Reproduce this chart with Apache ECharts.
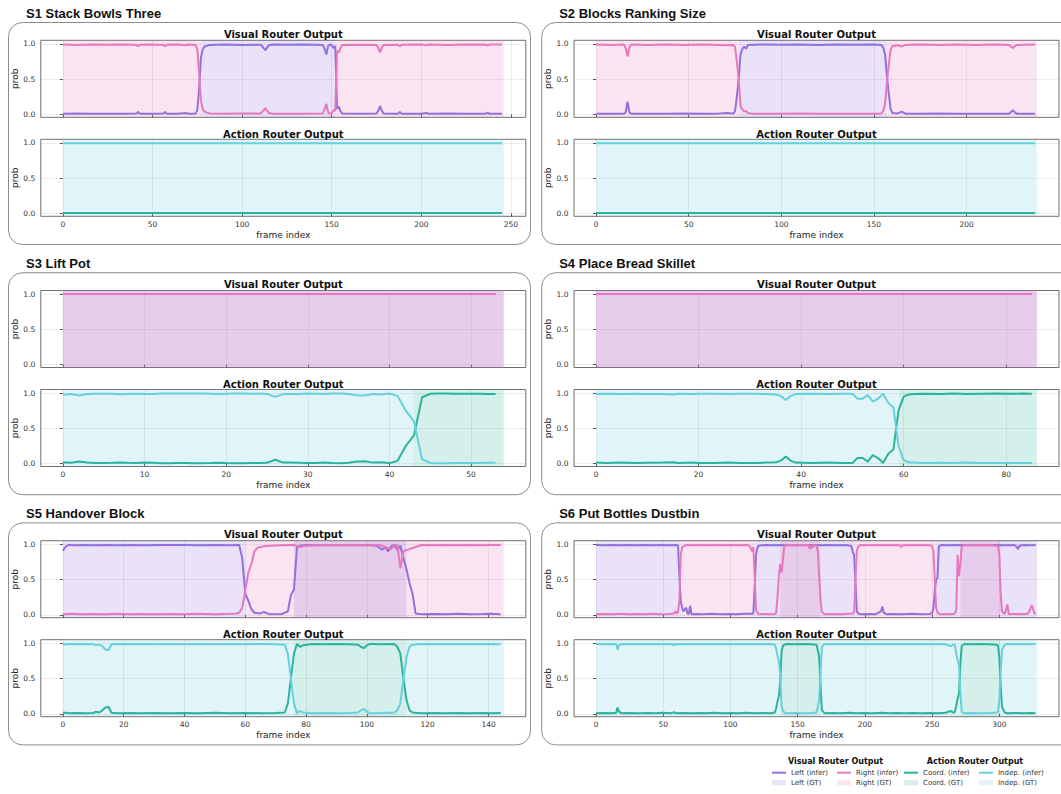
<!DOCTYPE html>
<html><head><meta charset="utf-8">
<script src="https://cdn.jsdelivr.net/npm/echarts@6/dist/echarts.min.js"></script>
<style>html,body{margin:0;padding:0;background:#fff}#chart{width:1061px;height:794px}</style>
</head><body><div id="chart"></div>
<script>
// ---------------- DATA ----------------
const panelTitles = ['S1 Stack Bowls Three','S2 Blocks Ranking Size','S3 Lift Pot','S4 Place Bread Skillet','S5 Handover Block','S6 Put Bottles Dustbin'];
const subplotTitles = ['Visual Router Output','Action Router Output'];
const legendTitles = ['Visual Router Output','Action Router Output'];
const inferNames = ['Left (infer)','Right (infer)','Coord. (infer)','Indep. (infer)'];
const gtNames = ['Left (GT)','Right (GT)','Coord. (GT)','Indep. (GT)'];
const probTicks = [0, 0.5, 1.0];
const s1Ticks = [0,50,100,150,200,250];
const s2Ticks = [0,50,100,150,200];
const s3Ticks = [0,10,20,30,40,50];
const s4Ticks = [0,20,40,60,80];
const s5Ticks = [0,20,40,60,80,100,120,140];
const s6Ticks = [0,50,100,150,200,250,300];

// S1 Stack Bowls Three
const s1Left = [[0,0.01],[8,0.015],[15,0.01],[25,0.012],[35,0.01],[41,0.015],[42,0.035],[43,0.012],[50,0.01],[56,0.015],[57,0.035],[58,0.012],[64,0.01],[69,0.02],[70,0.01],[74,0.012],[75,0.06],[76,0.35],[77,0.8],[78,0.92],[79,0.96],[80,0.97],[82,0.985],[90,0.99],[100,0.985],[110,0.988],[111,0.975],[112,0.94],[113,0.91],[114,0.95],[115,0.98],[117,0.99],[125,0.988],[135,0.99],[145,0.985],[146,0.93],[147,0.85],[148,0.97],[149,0.99],[150,0.98],[151,0.94],[152,0.97],[153,0.08],[154,0.11],[155,0.04],[156,0.015],[165,0.012],[175,0.015],[176,0.05],[177,0.12],[178,0.05],[179,0.015],[187,0.012],[188,0.035],[189,0.012],[200,0.01],[203,0.022],[204,0.01],[215,0.015],[225,0.01],[236,0.012],[237,0.025],[238,0.01],[245,0.01]];
const s1Right = [[0,0.99],[8,0.985],[15,0.99],[25,0.988],[35,0.99],[41,0.985],[42,0.965],[43,0.988],[50,0.99],[56,0.985],[57,0.965],[58,0.988],[64,0.99],[69,0.98],[70,0.99],[74,0.985],[75,0.93],[76,0.6],[77,0.2],[78,0.08],[79,0.04],[80,0.03],[82,0.015],[90,0.01],[100,0.015],[110,0.012],[111,0.03],[112,0.06],[113,0.09],[114,0.05],[115,0.02],[117,0.01],[125,0.012],[135,0.01],[145,0.015],[146,0.07],[147,0.15],[148,0.03],[149,0.01],[150,0.02],[151,0.06],[152,0.05],[153,0.9],[154,0.88],[155,0.95],[156,0.985],[165,0.988],[175,0.985],[176,0.94],[177,0.88],[178,0.95],[179,0.985],[187,0.988],[188,0.965],[189,0.988],[200,0.99],[203,0.978],[204,0.99],[215,0.985],[225,0.99],[236,0.988],[237,0.975],[238,0.99],[245,0.99]];
const s1Coord = [[0,0.006],[245,0.006]];
const s1Indep = [[0,0.994],[245,0.994]];
const s1LeftGT = [[77,152]];
const s1RightGT = [[0,77],[152,246]];
const s1CoordGT = [];
const s1IndepGT = [[0,246]];

// S2 Blocks Ranking Size
const s2Left = [[0,0.01],[8,0.012],[15,0.01],[16,0.03],[17,0.18],[18,0.03],[19,0.01],[28,0.012],[38,0.01],[48,0.015],[58,0.01],[66,0.012],[70,0.02],[74,0.015],[75,0.04],[76,0.25],[77,0.5],[78,0.85],[79,0.93],[80,0.96],[81,0.93],[82,0.985],[90,0.99],[100,0.988],[110,0.99],[120,0.985],[130,0.99],[140,0.988],[150,0.99],[154,0.985],[155,0.95],[156,0.85],[157,0.55],[158,0.3],[159,0.08],[160,0.02],[163,0.015],[165,0.04],[167,0.012],[175,0.01],[185,0.015],[195,0.01],[205,0.012],[215,0.01],[223,0.012],[224,0.035],[225,0.06],[226,0.03],[227,0.012],[237,0.01]];
const s2Right = [[0,0.99],[8,0.985],[15,0.99],[16,0.94],[17,0.82],[18,0.95],[19,0.99],[28,0.985],[38,0.99],[48,0.985],[58,0.99],[66,0.985],[70,0.98],[74,0.985],[75,0.96],[76,0.75],[77,0.5],[78,0.12],[79,0.07],[80,0.04],[81,0.05],[82,0.02],[84,0.01],[90,0.012],[100,0.01],[110,0.015],[120,0.01],[130,0.012],[140,0.01],[150,0.012],[154,0.015],[155,0.05],[156,0.15],[157,0.45],[158,0.7],[159,0.92],[160,0.97],[163,0.98],[165,0.96],[167,0.985],[175,0.99],[185,0.985],[195,0.99],[205,0.985],[215,0.99],[223,0.985],[224,0.96],[225,0.94],[226,0.965],[227,0.985],[237,0.99]];
const s2Coord = [[0,0.006],[237,0.006]];
const s2Indep = [[0,0.994],[237,0.994]];
const s2LeftGT = [[77,157]];
const s2RightGT = [[0,77],[157,238]];
const s2CoordGT = [];
const s2IndepGT = [[0,238]];

// S3 Lift Pot
const s3Left = [[0,1],[53,1]];
const s3Right = [[0,1],[53,1]];
const s3Coord = [[0,0.02],[1,0.012],[2,0.03],[3,0.015],[4,0.01],[5,0.01],[6,0.012],[7,0.018],[8,0.012],[9,0.01],[10,0.015],[11,0.012],[12,0.005],[13,0.005],[14,0.008],[15,0.008],[16,0.005],[17,0.005],[18,0.008],[19,0.012],[20,0.008],[21,0.006],[22,0.006],[23,0.008],[24,0.008],[25,0.012],[26,0.055],[27,0.015],[28,0.015],[29,0.012],[30,0.008],[31,0.008],[32,0.015],[33,0.008],[34,0.006],[35,0.012],[36,0.03],[37,0.035],[38,0.015],[39,0.02],[40,0.008],[41,0.04],[42,0.25],[43,0.4],[44,0.94],[45,0.99],[46,0.995],[47,0.995],[48,0.99],[49,0.99],[50,0.99],[51,0.99],[52,0.985],[53,0.985]];
const s3Indep = [[0,0.975],[1,0.985],[2,0.965],[3,0.985],[4,0.99],[5,0.99],[6,0.99],[7,0.982],[8,0.988],[9,0.99],[10,0.985],[11,0.988],[12,0.995],[13,0.995],[14,0.992],[15,0.992],[16,0.995],[17,0.995],[18,0.99],[19,0.985],[20,0.99],[21,0.994],[22,0.994],[23,0.99],[24,0.992],[25,0.988],[26,0.945],[27,0.985],[28,0.985],[29,0.988],[30,0.992],[31,0.99],[32,0.985],[33,0.992],[34,0.994],[35,0.985],[36,0.97],[37,0.965],[38,0.985],[39,0.98],[40,0.992],[41,0.96],[42,0.75],[43,0.6],[44,0.06],[45,0.01],[46,0.005],[47,0.005],[48,0.008],[49,0.008],[50,0.01],[51,0.01],[52,0.012],[53,0.012]];
const s3LeftGT = [[0,54]];
const s3RightGT = [[0,54]];
const s3CoordGT = [[43,54]];
const s3IndepGT = [[0,43]];

// S4 Place Bread Skillet
const s4Left = [[0,1],[85,1]];
const s4Right = [[0,1],[85,1]];
const s4Coord = [[0,0.015],[2,0.01],[5,0.015],[8,0.01],[10,0.012],[13,0.015],[15,0.02],[16,0.01],[19,0.015],[20,0.01],[23,0.01],[26,0.015],[28,0.01],[31,0.01],[33,0.015],[35,0.02],[36,0.04],[37,0.1],[38,0.04],[39,0.015],[42,0.01],[45,0.015],[48,0.01],[50,0.01],[51,0.08],[52,0.08],[53,0.03],[54,0.12],[55,0.08],[56,0.01],[57,0.14],[58,0.2],[59,0.75],[60,0.95],[61,0.98],[62,0.985],[64,0.99],[67,0.988],[70,0.992],[72,0.985],[75,0.99],[78,0.992],[81,0.99],[83,0.992],[85,0.99]];
const s4Indep = [[0,0.985],[2,0.99],[5,0.985],[8,0.99],[10,0.988],[13,0.985],[15,0.98],[16,0.99],[19,0.985],[20,0.99],[23,0.99],[26,0.985],[28,0.99],[31,0.99],[33,0.985],[35,0.98],[36,0.96],[37,0.9],[38,0.96],[39,0.985],[42,0.99],[45,0.985],[48,0.99],[50,0.99],[51,0.92],[52,0.92],[53,0.97],[54,0.88],[55,0.92],[56,0.99],[57,0.86],[58,0.8],[59,0.25],[60,0.05],[61,0.02],[62,0.015],[64,0.01],[67,0.012],[70,0.008],[72,0.015],[75,0.01],[78,0.008],[81,0.01],[83,0.008],[85,0.01]];
const s4LeftGT = [[0,86]];
const s4RightGT = [[0,86]];
const s4CoordGT = [[59,86]];
const s4IndepGT = [[0,59]];

// S5 Handover Block
const s5Left = [[0,0.91],[1,0.97],[2,0.99],[4,0.985],[7,0.99],[10,0.985],[14,0.99],[18,0.985],[22,0.99],[27,0.985],[32,0.99],[36,0.988],[40,0.99],[45,0.985],[50,0.99],[55,0.985],[58,0.99],[59,0.8],[60,0.3],[61,0.2],[62,0.08],[63,0.03],[65,0.02],[66,0.04],[68,0.01],[72,0.012],[74,0.05],[75,0.28],[76,0.36],[77,0.95],[78,0.98],[80,0.99],[85,0.985],[90,0.99],[95,0.985],[100,0.99],[103,0.98],[104,0.95],[105,0.92],[106,0.96],[107,0.9],[108,0.97],[109,0.99],[110,0.92],[111,0.98],[112,0.8],[113,0.65],[114,0.45],[115,0.3],[116,0.02],[118,0.01],[122,0.012],[126,0.01],[130,0.015],[134,0.01],[138,0.012],[141,0.015],[144,0.01]];
const s5Right = [[0,0.01],[3,0.015],[6,0.01],[10,0.012],[14,0.01],[18,0.015],[22,0.01],[26,0.012],[30,0.01],[35,0.012],[40,0.01],[45,0.015],[50,0.01],[55,0.015],[57,0.02],[58,0.03],[59,0.1],[60,0.35],[61,0.6],[62,0.72],[63,0.9],[64,0.95],[66,0.97],[68,0.98],[72,0.985],[76,0.99],[78,0.96],[79,0.97],[80,0.98],[85,0.99],[90,0.985],[95,0.99],[100,0.985],[104,0.99],[106,0.96],[108,0.93],[109,0.98],[110,0.99],[111,0.66],[112,0.9],[113,0.92],[114,0.93],[116,0.96],[118,0.99],[122,0.985],[126,0.99],[130,0.985],[134,0.99],[138,0.985],[141,0.99],[144,0.99]];
const s5Coord = [[0,0.02],[2,0.01],[5,0.012],[8,0.01],[10,0.012],[11,0.03],[12,0.02],[13,0.05],[14,0.09],[15,0.1],[16,0.015],[18,0.01],[22,0.012],[26,0.01],[30,0.012],[35,0.01],[40,0.012],[45,0.01],[50,0.015],[55,0.01],[60,0.012],[65,0.01],[70,0.012],[73,0.02],[74,0.15],[75,0.5],[76,0.85],[77,0.99],[78,0.95],[79,0.97],[82,0.99],[86,0.985],[90,0.99],[94,0.985],[97,0.98],[98,0.95],[99,0.93],[100,0.97],[101,0.99],[105,0.985],[109,0.99],[110,0.95],[111,0.85],[112,0.5],[113,0.2],[114,0.05],[115,0.02],[118,0.01],[122,0.012],[126,0.01],[130,0.012],[134,0.01],[138,0.012],[141,0.01],[144,0.012]];
const s5Indep = [[0,0.98],[2,0.99],[5,0.985],[8,0.99],[10,0.985],[11,0.97],[12,0.98],[13,0.96],[14,0.91],[15,0.9],[16,0.985],[18,0.99],[22,0.985],[26,0.99],[30,0.985],[35,0.99],[40,0.985],[45,0.99],[50,0.985],[55,0.99],[60,0.985],[65,0.99],[70,0.985],[73,0.98],[74,0.85],[75,0.5],[76,0.15],[77,0.01],[78,0.04],[79,0.02],[82,0.01],[86,0.012],[90,0.01],[94,0.012],[97,0.02],[98,0.05],[99,0.07],[100,0.03],[101,0.01],[105,0.012],[109,0.02],[110,0.05],[111,0.15],[112,0.5],[113,0.8],[114,0.95],[115,0.98],[118,0.99],[122,0.985],[126,0.99],[130,0.985],[134,0.99],[138,0.985],[141,0.99],[144,0.985]];
const s5LeftGT = [[0,60],[76,113]];
const s5RightGT = [[60,145]];
const s5CoordGT = [[76,113]];
const s5IndepGT = [[0,76],[113,145]];

// S6 Put Bottles Dustbin
const s6Left = [[0,0.99],[6,0.985],[12,0.99],[18,0.985],[24,0.99],[30,0.985],[36,0.99],[42,0.985],[48,0.99],[54,0.985],[60,0.99],[61,0.98],[62,0.55],[63,0.2],[64,0.1],[65,0.05],[66,0.08],[67,0.1],[68,0.02],[69,0.01],[70,0.13],[71,0.01],[75,0.012],[80,0.01],[86,0.015],[92,0.01],[98,0.012],[104,0.01],[110,0.015],[116,0.015],[117,0.02],[118,0.4],[119,0.85],[120,0.95],[121,0.98],[126,0.99],[132,0.985],[138,0.99],[144,0.985],[150,0.99],[156,0.985],[162,0.99],[168,0.985],[174,0.99],[180,0.985],[186,0.99],[189,0.98],[190,0.97],[191,0.89],[192,0.85],[193,0.45],[194,0.05],[195,0.02],[197,0.01],[203,0.012],[208,0.01],[212,0.05],[213,0.12],[214,0.03],[216,0.01],[222,0.012],[228,0.01],[235,0.015],[242,0.01],[248,0.012],[250,0.02],[251,0.1],[252,0.35],[253,0.5],[254,0.52],[255,0.97],[257,0.99],[263,0.985],[270,0.99],[277,0.985],[284,0.99],[291,0.985],[298,0.99],[305,0.985],[311,0.99],[312,0.98],[313,0.96],[314,0.93],[315,0.98],[318,0.99],[323,0.985],[327,0.99]];
const s6Right = [[0,0.01],[6,0.012],[12,0.01],[18,0.015],[24,0.01],[30,0.012],[36,0.01],[42,0.015],[48,0.01],[54,0.012],[58,0.02],[59,0.05],[60,0.02],[61,0.04],[62,0.2],[63,0.85],[64,0.95],[65,0.97],[67,0.99],[72,0.985],[78,0.99],[84,0.985],[90,0.99],[96,0.985],[102,0.99],[108,0.985],[112,0.99],[114,0.98],[115,0.95],[116,0.9],[117,0.96],[118,0.55],[119,0.06],[121,0.01],[126,0.012],[130,0.01],[133,0.01],[134,0.03],[135,0.25],[136,0.55],[137,0.72],[138,0.6],[139,0.78],[140,0.97],[142,0.99],[148,0.985],[153,0.99],[158,0.99],[159,0.93],[160,0.98],[161,0.95],[162,0.99],[164,0.98],[165,0.9],[166,0.55],[167,0.2],[168,0.04],[170,0.01],[176,0.012],[182,0.01],[187,0.015],[191,0.02],[192,0.04],[193,0.5],[194,0.9],[195,0.97],[197,0.99],[203,0.985],[210,0.99],[217,0.985],[223,0.99],[226,0.985],[227,0.96],[228,0.985],[234,0.99],[240,0.985],[246,0.99],[249,0.985],[250,0.97],[251,0.9],[252,0.5],[253,0.1],[254,0.03],[256,0.01],[261,0.012],[265,0.01],[267,0.02],[268,0.08],[269,0.85],[270,0.55],[271,0.72],[272,0.97],[274,0.99],[280,0.985],[287,0.99],[294,0.985],[299,0.98],[300,0.85],[301,0.3],[302,0.05],[304,0.01],[305,0.08],[306,0.15],[307,0.01],[310,0.012],[316,0.01],[321,0.015],[322,0.04],[323,0.08],[324,0.14],[325,0.09],[326,0.03],[327,0.01]];
const s6Coord = [[0,0.01],[6,0.012],[12,0.01],[15,0.015],[16,0.09],[17,0.03],[19,0.01],[25,0.012],[32,0.01],[38,0.012],[44,0.01],[50,0.015],[56,0.01],[58,0.025],[59,0.01],[64,0.012],[70,0.01],[76,0.012],[82,0.01],[88,0.015],[94,0.01],[100,0.012],[106,0.01],[112,0.015],[118,0.01],[124,0.012],[130,0.01],[133,0.02],[134,0.08],[135,0.18],[136,0.25],[137,0.45],[138,0.88],[139,0.96],[140,0.98],[142,0.99],[148,0.985],[154,0.99],[160,0.985],[164,0.98],[165,0.9],[166,0.8],[167,0.4],[168,0.05],[170,0.01],[176,0.012],[182,0.01],[188,0.015],[194,0.01],[200,0.012],[206,0.01],[212,0.015],[218,0.01],[224,0.012],[230,0.01],[236,0.012],[242,0.01],[248,0.012],[254,0.01],[260,0.015],[262,0.03],[264,0.04],[266,0.015],[267,0.03],[268,0.12],[269,0.22],[270,0.28],[271,0.7],[272,0.96],[274,0.99],[280,0.985],[286,0.99],[292,0.985],[298,0.98],[299,0.97],[300,0.8],[301,0.4],[302,0.1],[304,0.02],[306,0.01],[312,0.012],[318,0.01],[323,0.012],[327,0.01]];
const s6Indep = [[0,0.99],[6,0.985],[12,0.99],[15,0.985],[16,0.91],[17,0.97],[19,0.99],[25,0.985],[32,0.99],[38,0.985],[44,0.99],[50,0.985],[56,0.99],[58,0.97],[59,0.99],[64,0.985],[70,0.99],[76,0.985],[82,0.99],[88,0.985],[94,0.99],[100,0.985],[106,0.99],[112,0.985],[118,0.99],[124,0.985],[130,0.99],[133,0.98],[134,0.92],[135,0.82],[136,0.75],[137,0.55],[138,0.12],[139,0.04],[140,0.02],[142,0.01],[148,0.012],[154,0.01],[160,0.012],[164,0.02],[165,0.1],[166,0.2],[167,0.6],[168,0.95],[170,0.99],[176,0.985],[182,0.99],[188,0.985],[194,0.99],[200,0.985],[206,0.99],[212,0.985],[218,0.99],[224,0.985],[230,0.99],[236,0.985],[242,0.99],[248,0.985],[254,0.99],[260,0.985],[262,0.97],[264,0.96],[266,0.985],[267,0.97],[268,0.85],[269,0.76],[270,0.7],[271,0.3],[272,0.03],[274,0.01],[280,0.012],[286,0.01],[292,0.012],[298,0.02],[299,0.03],[300,0.2],[301,0.6],[302,0.9],[304,0.98],[306,0.99],[312,0.985],[318,0.99],[323,0.985],[327,0.99]];
const s6LeftGT = [[0,63],[119,193],[253,328]];
const s6RightGT = [[63,119],[137,167],[193,253],[271,301]];
const s6CoordGT = [[137,167],[271,301]];
const s6IndepGT = [[0,137],[167,271],[301,328]];

// ---------------- BUILD ----------------
const panels = [
  {ticks:s1Ticks, left:s1Left, right:s1Right, coord:s1Coord, indep:s1Indep, leftGT:s1LeftGT, rightGT:s1RightGT, coordGT:s1CoordGT, indepGT:s1IndepGT},
  {ticks:s2Ticks, left:s2Left, right:s2Right, coord:s2Coord, indep:s2Indep, leftGT:s2LeftGT, rightGT:s2RightGT, coordGT:s2CoordGT, indepGT:s2IndepGT},
  {ticks:s3Ticks, left:s3Left, right:s3Right, coord:s3Coord, indep:s3Indep, leftGT:s3LeftGT, rightGT:s3RightGT, coordGT:s3CoordGT, indepGT:s3IndepGT},
  {ticks:s4Ticks, left:s4Left, right:s4Right, coord:s4Coord, indep:s4Indep, leftGT:s4LeftGT, rightGT:s4RightGT, coordGT:s4CoordGT, indepGT:s4IndepGT},
  {ticks:s5Ticks, left:s5Left, right:s5Right, coord:s5Coord, indep:s5Indep, leftGT:s5LeftGT, rightGT:s5RightGT, coordGT:s5CoordGT, indepGT:s5IndepGT},
  {ticks:s6Ticks, left:s6Left, right:s6Right, coord:s6Coord, indep:s6Indep, leftGT:s6LeftGT, rightGT:s6RightGT, coordGT:s6CoordGT, indepGT:s6IndepGT}
];
const KEYS = ['left','right','coord','indep'];
const LINE_C = {left:'#9370db', right:'#e679bd', coord:'#2bb39b', indep:'#67cfdd'};
const FILL_C = {left:'rgba(147,112,219,0.2)', right:'rgba(232,120,188,0.2)', coord:'rgba(43,179,155,0.2)', indep:'rgba(103,207,221,0.2)'};
const FONT = 'DejaVu Sans';

const COL_DX = 533.2, ROW_DY = 250.2;
const PLOT_L = 40.8, PLOT_W = 485, PLOT_H = 77;
const SUB_TOP = [40.3, 139.3];

const grids = [], xAxes = [], yAxes = [], series = [], titles = [], graphics = [];

panels.forEach((p, i) => {
  const col = i % 2, row = Math.floor(i / 2);
  const ox = col * COL_DX, oy = row * ROW_DY;
  const allSpans = [].concat(p.leftGT, p.rightGT, p.coordGT, p.indepGT);
  const n = Math.max(...allSpans.map(s => s[1]));

  titles.push({text: panelTitles[i], left: 26 + ox, top: 13.5 + oy, padding: 0,
    textAlign: 'left', textVerticalAlign: 'middle',
    textStyle: {fontFamily: 'Liberation Sans', fontWeight: 'bold', fontSize: 13, color: '#111'}});
  graphics.push({type: 'rect', silent: true, z: -10,
    shape: {x: 8.5 + ox, y: 22.5 + oy, width: col ? 545 : 522, height: 222, r: 14},
    style: {fill: 'none', stroke: '#8c8c8c', lineWidth: 1}});

  [0, 1].forEach(k => {
    const g = grids.length;
    const isAct = k === 1;
    grids.push({left: PLOT_L + ox, top: SUB_TOP[k] + oy, width: PLOT_W, height: PLOT_H,
      show: true, borderColor: '#707070', borderWidth: 1, backgroundColor: 'rgba(0,0,0,0)'});
    xAxes.push({type: 'value', gridIndex: g, min: -0.05 * n, max: 1.05 * n,
      axisLine: {show: false},
      axisTick: {show: true, customValues: p.ticks, length: 3, lineStyle: {color: '#555'}},
      axisLabel: {show: isAct, customValues: p.ticks, margin: 4, fontFamily: FONT, fontSize: 7.5, color: '#333'},
      splitLine: {show: true, lineStyle: {color: 'rgba(0,0,0,0.07)', width: 1}},
      name: isAct ? 'frame index' : '', nameLocation: 'middle', nameGap: 14,
      nameTextStyle: {fontFamily: FONT, fontSize: 9, color: '#222'}});
    yAxes.push({type: 'value', gridIndex: g, min: -0.04, max: 1.05,
      axisLine: {show: false},
      axisTick: {show: true, customValues: probTicks, length: 3, lineStyle: {color: '#555'}},
      axisLabel: {customValues: probTicks, margin: 5.5, formatter: v => v.toFixed(1), fontFamily: FONT, fontSize: 7.5, color: '#333'},
      splitLine: {show: true, lineStyle: {color: 'rgba(0,0,0,0.07)', width: 1}},
      name: 'prob', nameLocation: 'middle', nameGap: 20, nameRotate: 90,
      nameTextStyle: {fontFamily: FONT, fontSize: 9, color: '#222'}});
    titles.push({text: subplotTitles[k], left: PLOT_L + ox + PLOT_W / 2, top: (isAct ? 134 : 34) + oy, padding: 0,
      textAlign: 'center', textVerticalAlign: 'middle',
      textStyle: {fontFamily: FONT, fontWeight: 'bold', fontSize: 10, color: '#111'}});

    const keys = isAct ? [2, 3] : [0, 1];
    keys.forEach(ki => {
      const key = KEYS[ki];
      const spans = p[key + 'GT'];
      if (!spans.length) return;
      series.push({type: 'line', name: gtNames[ki], xAxisIndex: g, yAxisIndex: g, data: [],
        color: FILL_C[key], z: 1, silent: true,
        markArea: {silent: true, itemStyle: {color: FILL_C[key]}, label: {show: false},
          data: spans.map(s => [{xAxis: s[0]}, {xAxis: s[1]}])}});
    });
    keys.forEach(ki => {
      const key = KEYS[ki];
      series.push({type: 'line', name: inferNames[ki], xAxisIndex: g, yAxisIndex: g, data: p[key],
        color: LINE_C[key], showSymbol: false, symbol: 'none', z: 3, silent: true,
        lineStyle: {width: 2, color: LINE_C[key]}});
    });
  });
});

// legend titles
const legendTitleX = [835.5, 975];
legendTitles.forEach((t, j) => titles.push({text: t, left: legendTitleX[j], top: 761.7, padding: 0,
  textAlign: 'center', textVerticalAlign: 'middle',
  textStyle: {fontFamily: FONT, fontWeight: 'bold', fontSize: 8, color: '#111'}}));

// legends: one per entry
const legendX = [772, 837, 904, 979];
const legends = [];
[inferNames, gtNames].forEach((names, r) => {
  names.forEach((nm, j) => {
    const h = r === 0 ? 2 : 5;
    legends.push({left: legendX[j], top: (r === 0 ? 772.7 : 782.7) - 4, padding: 0,
      itemWidth: 14, itemHeight: h, itemGap: 0, icon: 'rect', selectedMode: false,
      itemStyle: {borderWidth: 0},
      data: [nm],
      textStyle: {fontFamily: FONT, fontSize: 7, color: '#333', lineHeight: 8}});
  });
});

const chart = echarts.init(document.getElementById('chart'), null, {renderer: 'svg'});
chart.setOption({
  animation: false,
  backgroundColor: '#fff',
  textStyle: {fontFamily: FONT},
  title: titles,
  grid: grids,
  xAxis: xAxes,
  yAxis: yAxes,
  legend: legends,
  series: series,
  graphic: graphics
});
</script></body></html>
